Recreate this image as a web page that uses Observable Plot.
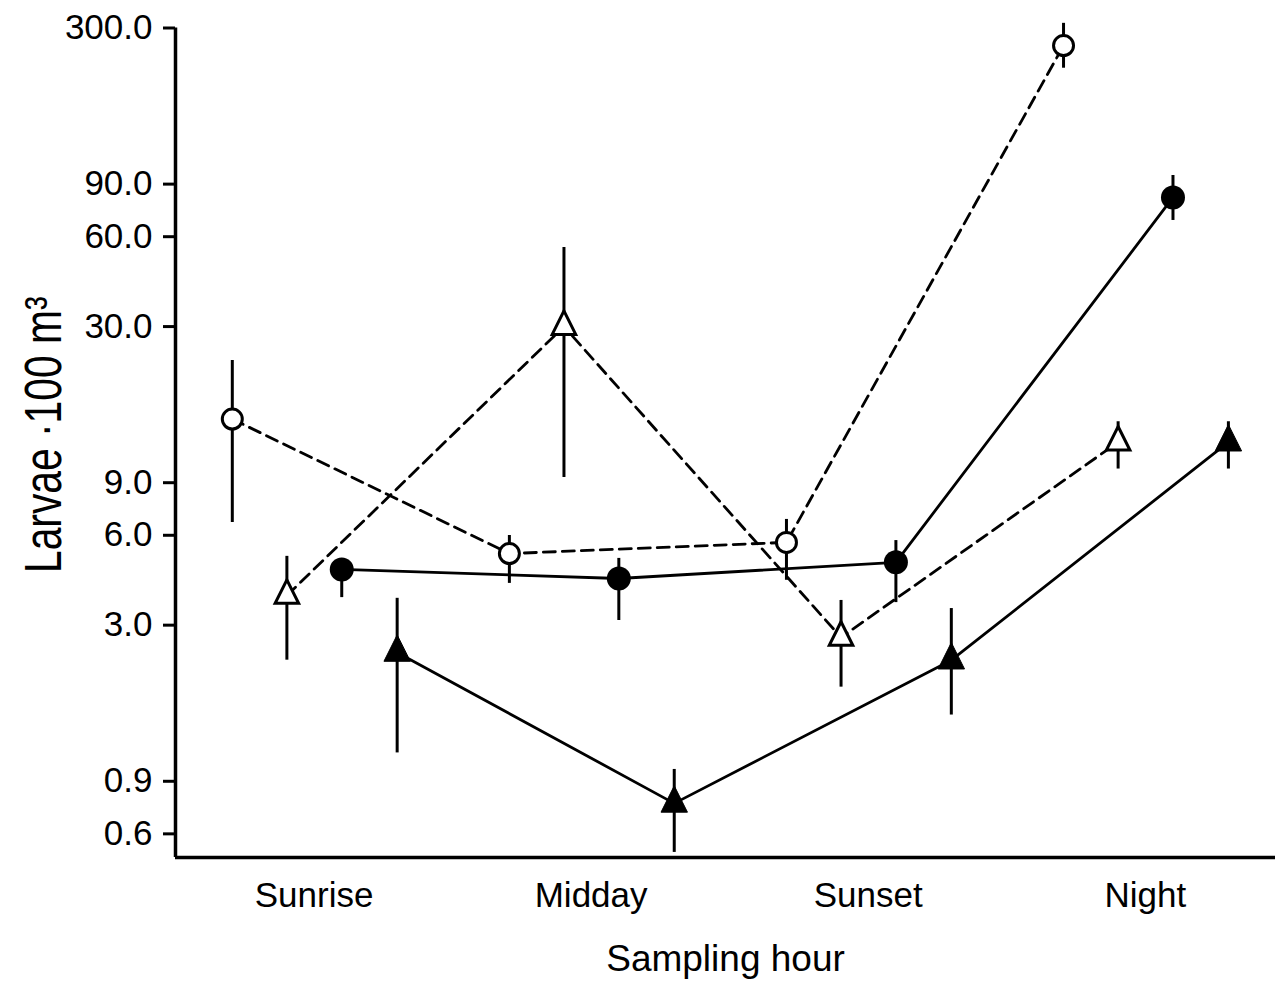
<!DOCTYPE html>
<html>
<head>
<meta charset="utf-8">
<script src="https://cdn.jsdelivr.net/npm/d3@7"></script>
<script src="https://cdn.jsdelivr.net/npm/@observablehq/plot@0.6"></script>
<style>
  html, body { margin: 0; padding: 0; background: #fff; }
  svg { display: block; }
</style>
</head>
<body>
<div id="chart"></div>
<script>
// ---- Data ----
const categories = ["Sunrise", "Midday", "Sunset", "Night"];
const seriesNames = ["Open circles", "Open triangles", "Filled circles", "Filled triangles"];

const ocMean = [14.7, 5.21, 5.68, 262];
const ocLow  = [6.62, 4.14, 4.24, 220];
const ocHigh = [23.1, 5.99, 6.78, 311];

const otMean = [3.77, 30.0, 2.73, 12.3];
const otLow  = [2.29, 9.37, 1.86, 10.0];
const otHigh = [5.10, 55.2, 3.63, 14.4];

const fcMean = [4.61, 4.30, 4.87, 81.2];
const fcLow  = [3.71, 3.11, 3.57, 68.0];
const fcHigh = [4.9, 5.02, 5.76, 96.2];

const ftMean = [2.43, 0.759, 2.29, 12.3];
const ftLow  = [1.12, 0.52, 1.50, 10.0];
const ftHigh = [3.69, 0.986, 3.41, 14.4];

const yTicks = [0.6, 0.9, 3, 6, 9, 30, 60, 90, 300];

// ---- Build table ----
const dodge = [-0.295, -0.098, 0.1, 0.3];
const seriesData = [
  [ocMean, ocLow, ocHigh],
  [otMean, otLow, otHigh],
  [fcMean, fcLow, fcHigh],
  [ftMean, ftLow, ftHigh]
];
const rows = [];
seriesData.forEach(([m, lo, hi], s) => {
  categories.forEach((c, i) => {
    rows.push({series: seriesNames[s], cat: c, x: i + dodge[s], mean: m[i], lo: lo[i], hi: hi[i]});
  });
});
const of = name => rows.filter(d => d.series === name);

const triangle = {
  draw(ctx, size) {
    const r = Math.sqrt(size / Math.PI);
    const w = r * 1.2, h = r * 2.4;
    ctx.moveTo(0, -2 * h / 3);
    ctx.lineTo(w, h / 3);
    ctx.lineTo(-w, h / 3);
    ctx.closePath();
  }
};

const FS = 35;
const yTitle = "Larvae ·100 m³";
const chart = Plot.plot({
  width: 1287,
  height: 987,
  marginLeft: 175,
  marginRight: 12,
  marginTop: 27.5,
  marginBottom: 130,
  style: {fontFamily: "'Liberation Sans', Arial, Helvetica, sans-serif", background: "#fff", color: "#000"},
  x: {type: "linear", domain: [-0.5, 3.47], axis: null},
  y: {type: "log", domain: [0.5, 300], axis: null},
  marks: [
    Plot.axisY(yTicks, {tickFormat: d3.format(".1f"), tickSize: 12, tickPadding: 11, fontSize: FS, strokeWidth: 3, label: null}),
    Plot.axisX([0, 1, 2, 3], {tickFormat: i => categories[i], tickSize: 0, tickPadding: 25, fontSize: FS, label: null}),
    Plot.ruleX([-0.5], {strokeWidth: 3.5}),
    Plot.ruleY([0.5], {strokeWidth: 3.5}),
    // lines
    Plot.line(rows.filter(d => d.series.startsWith("Open")), {x: "x", y: "mean", z: "series", stroke: "#000", strokeWidth: 2.8, strokeDasharray: "12,7"}),
    Plot.line(rows.filter(d => d.series.startsWith("Filled")), {x: "x", y: "mean", z: "series", stroke: "#000", strokeWidth: 2.8}),
    // error bars
    Plot.ruleX(rows, {x: "x", y1: "lo", y2: "hi", stroke: "#000", strokeWidth: 3}),
    // markers
    Plot.dot(of("Open circles"), {x: "x", y: "mean", r: 10, fill: "#fff", stroke: "#000", strokeWidth: 3}),
    Plot.dot(of("Filled circles"), {x: "x", y: "mean", r: 12, fill: "#000", stroke: "#000", strokeWidth: 0}),
    Plot.dot(of("Open triangles"), {x: "x", y: "mean", r: 9.8, symbol: triangle, fill: "#fff", stroke: "#000", strokeWidth: 3}),
    Plot.dot(of("Filled triangles"), {x: "x", y: "mean", r: 11, symbol: triangle, fill: "#000", stroke: "#000", strokeWidth: 1}),
    // titles
    Plot.text([yTitle], {frameAnchor: "left", textAnchor: "middle", dx: -131, dy: -8, rotate: -90, fontSize: 51, fill: "#000"}),
    Plot.text(["Sampling hour"], {frameAnchor: "bottom", lineAnchor: "middle", dy: 102, fontSize: 37, fill: "#000"})
  ]
});
document.getElementById("chart").appendChild(chart);
// condense the rotated y title along its length to match the reference lettering
chart.querySelectorAll("text").forEach(t => {
  if (t.textContent === yTitle) {
    const tr = t.getAttribute("transform") || "";
    t.setAttribute("transform", tr + " scale(0.8,1)");
  }
});
</script>
</body>
</html>
